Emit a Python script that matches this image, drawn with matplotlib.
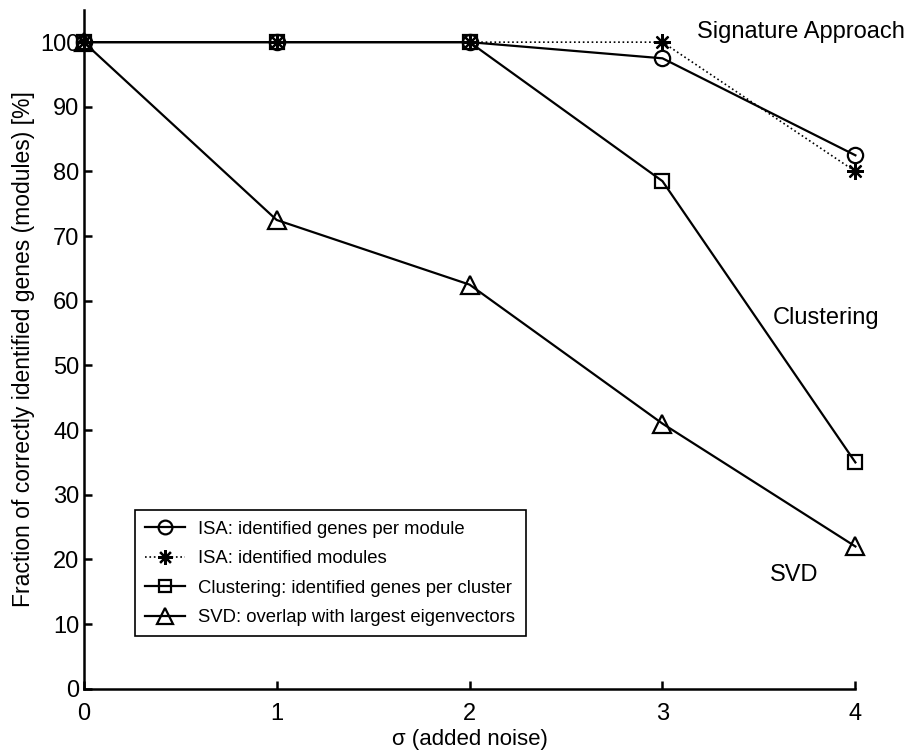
import numpy as np
import matplotlib.pyplot as plt

plt.rcParams['font.family'] = ['Liberation Sans', 'DejaVu Sans']

#noise levels
sigma = [0, 1, 2, 3, 4]

#fraction identified [%]
isa_genes = [100, 100, 100, 97.5, 82.5]
isa_modules = [100, 100, 100, 100, 80]
clust_genes = [100, 100, 100, 78.5, 35]
svd_overlap = [100, 72.5, 62.5, 41, 22]

labels = ['ISA: identified genes per module',
          'ISA: identified modules',
          'Clustering: identified genes per cluster',
          'SVD: overlap with largest eigenvectors']

fig = plt.figure(figsize=(9.1, 7.56), dpi=100)
ax = fig.add_axes([0.092, 0.089, 0.848, 0.898])

ms = 11
lw = 1.6
ax.plot(sigma, isa_genes, 'k-', marker='o', mfc='none', ms=ms, mew=lw, lw=lw,
        label=labels[0], clip_on=False, zorder=3)
ax.plot(sigma, isa_modules, 'k:', marker=(8, 2, 0), ms=12, mew=1.6, lw=1.2,
        label=labels[1], clip_on=False, zorder=3)
ax.plot(sigma, clust_genes, 'k-', marker='s', mfc='none', ms=10, mew=lw, lw=lw,
        label=labels[2], clip_on=False, zorder=3)
ax.plot(sigma, svd_overlap, 'k-', marker='^', mfc='none', ms=13, mew=lw, lw=lw,
        label=labels[3], clip_on=False, zorder=3)

ax.set_xlim(0, 4)
ax.set_ylim(0, 105)
ax.set_xticks(sigma)
ax.set_yticks(np.arange(0, 101, 10))
ax.spines['top'].set_visible(False)
ax.spines['right'].set_visible(False)
ax.spines['left'].set_linewidth(1.8)
ax.spines['bottom'].set_linewidth(1.8)
ax.tick_params(direction='in', length=6, width=1.8, labelsize=17, pad=3)
ax.tick_params(axis='x', pad=10)

ax.set_xlabel('σ (added noise)', fontsize=16, labelpad=3)
ax.set_ylabel('Fraction of correctly identified genes (modules) [%]', fontsize=16.5, labelpad=4)

ax.text(3.72, 101.5, 'Signature Approach', fontsize=17, ha='center', va='center', clip_on=False)
ax.text(3.85, 57.3, 'Clustering', fontsize=17, ha='center', va='center')
ax.text(3.68, 17.6, 'SVD', fontsize=17, ha='center', va='center')

leg = ax.legend(loc='lower left', bbox_to_anchor=(0.066, 0.077), borderaxespad=0,
                fontsize=13.3, fancybox=False, edgecolor='k', framealpha=1,
                handlelength=2.15, handletextpad=0.75, labelspacing=0.68,
                borderpad=0.55, markerscale=0.9)
leg.get_frame().set_linewidth(1.2)

plt.savefig('out.png', dpi=100)
